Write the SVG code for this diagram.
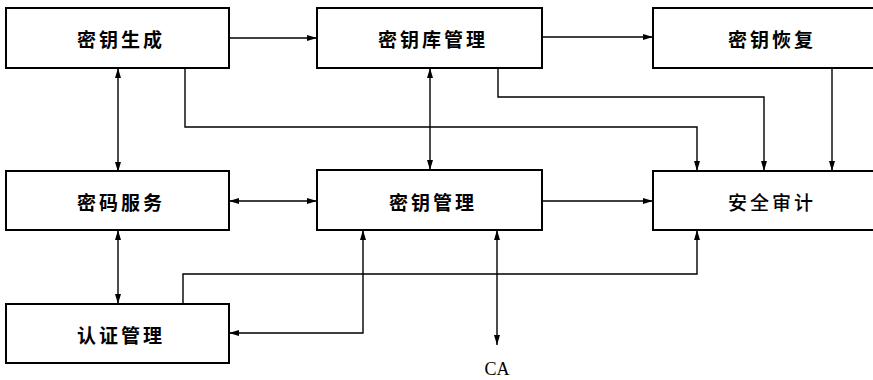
<svg xmlns="http://www.w3.org/2000/svg" width="873" height="380" viewBox="0 0 873 380">
<defs>
<marker id="ah" viewBox="0 0 10 6" refX="10" refY="3" markerWidth="10" markerHeight="6" markerUnits="userSpaceOnUse" orient="auto-start-reverse">
<path d="M0,0 L10,3 L0,6 Z" fill="#000"/>
</marker>
<style>
.box{fill:#fff;stroke:#000;stroke-width:2}
.lbl{font-family:"Noto Sans CJK SC","Noto Sans",sans-serif;font-size:19px;font-weight:bold;letter-spacing:3px;text-anchor:middle;dominant-baseline:central;fill:#000}
.thin{font-weight:500}
.c{fill:none;stroke:#000;stroke-width:1.4}
.e{marker-end:url(#ah)}
.b{marker-start:url(#ah);marker-end:url(#ah)}
.ca{font-family:"Liberation Serif",serif;font-size:18px;text-anchor:middle;fill:#000}
</style>
</defs>
<rect width="873" height="380" fill="#fff"/>
<g id="connectors">
<path class="c e" d="M229,38 H317"/>
<path class="c e" d="M542,37 H653"/>
<path class="c b" d="M118,68 V172"/>
<path class="c e" d="M185,68 V127 H697 V171"/>
<path class="c e" d="M498,68 V97 H764 V171"/>
<path class="c e" d="M832,68 V171"/>
<path class="c b" d="M430,68 V170"/>
<path class="c b" d="M229,201 H317"/>
<path class="c e" d="M542,201 H653"/>
<path class="c b" d="M118,230 V304"/>
<path class="c e" d="M183,304 V274 H697 V230"/>
<path class="c b" d="M363,230 V333 H229"/>
<path class="c b" d="M497,230 V345"/>
</g>
<g id="n-keygen"><rect class="box" x="6" y="8" width="223" height="60"/><text class="lbl" x="121" y="38">密钥生成</text></g>
<g id="n-keystore"><rect class="box" x="317" y="8" width="225" height="60"/><text class="lbl" x="433" y="38">密钥库管理</text></g>
<g id="n-keyrecover"><rect class="box" x="653" y="8" width="240" height="60"/><text class="lbl" x="772" y="38">密钥恢复</text></g>
<g id="n-crypto"><rect class="box" x="6" y="171" width="223" height="59"/><text class="lbl" x="121" y="201">密码服务</text></g>
<g id="n-keymgmt"><rect class="box" x="317" y="170" width="225" height="60"/><text class="lbl" x="433" y="201">密钥管理</text></g>
<g id="n-audit"><rect class="box" x="653" y="171" width="240" height="59"/><text class="lbl thin" x="772" y="201">安全审计</text></g>
<g id="n-auth"><rect class="box" x="6" y="304" width="223" height="59"/><text class="lbl" x="121" y="334">认证管理</text></g>
<g id="n-ca"><text class="ca" x="497" y="375">CA</text></g>
</svg>
